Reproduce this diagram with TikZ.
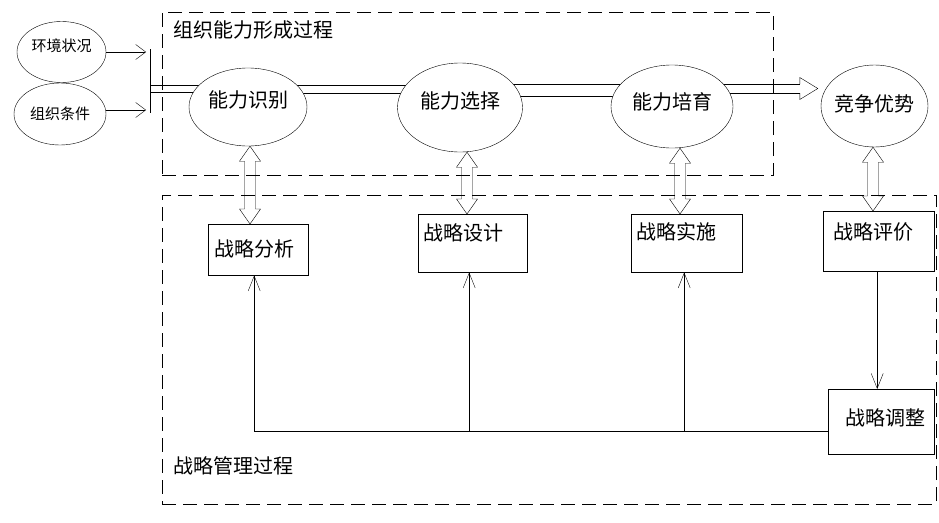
\documentclass[tikz,border=0pt]{standalone}
\usepackage{fontspec}
\setmainfont{Noto Sans CJK SC}
\usetikzlibrary{arrows.meta,shapes.geometric,calc}
\pgfdeclarelayer{bg}
\pgfsetlayers{bg,main}
\newcommand\dblarr[3]{%
  \draw let \p1=(#2.south), \p2=(#3.north) in
  ({#1pt},\y1) -- ({#1pt+10.5pt},{\y1-15pt}) -- ({#1pt+5.5pt},{\y1-15pt})
  -- ({#1pt+5.5pt},{\y2+15pt}) -- ({#1pt+10.5pt},{\y2+15pt}) -- ({#1pt},\y2)
  -- ({#1pt-10.5pt},{\y2+15pt}) -- ({#1pt-5.5pt},{\y2+15pt})
  -- ({#1pt-5.5pt},{\y1-15pt}) -- ({#1pt-10.5pt},{\y1-15pt}) -- cycle;}
\begin{document}
\begin{tikzpicture}[x=1pt,y=-1pt,line width=1pt,
  big/.style={font=\fontsize{20}{24}\selectfont},
  small/.style={font=\fontsize{15}{18}\selectfont},
  ell/.style={ellipse,draw,fill=white,inner sep=0pt,big,text height=17.6pt},
  sell/.style={ellipse,draw,fill=white,inner sep=0pt,small,text height=13.2pt},
  box/.style={draw,fill=white,anchor=north west,inner ysep=0pt,align=left,big},
  grp/.style={draw,dash pattern=on 14pt off 7pt,anchor=north west,inner sep=0pt},
  glabel/.style={big,anchor=west,inner sep=0pt,text height=17.6pt,text depth=2.4pt},
  barb/.style={-{Straight Barb[length=15pt,width=12pt]}},
  sbarb/.style={-{Straight Barb[length=10pt,width=15pt]}},
]
\useasboundingbox (0,0) rectangle (939,522);
% groups
\begin{pgfonlayer}{bg}
\node[grp,minimum width=611pt,minimum height=163pt] (g1) at (162,12) {};
\node[grp,minimum width=774pt,minimum height=309pt] (g2) at (162,195) {};
\end{pgfonlayer}
\node[glabel] (g1t) at (173,30) {组织能力形成过程};
\node[glabel] (g2t) at (173,466) {战略管理过程};
% small ellipses
\node[sell,minimum width=89pt,minimum height=61pt,text depth=13.8pt] (hj) at (61.5,52) {\makebox[0pt]{环境状况}};
\node[sell,minimum width=92pt,minimum height=62pt,text depth=1.8pt] (zz) at (60,114) {\makebox[0pt]{组织条件}};
% big ellipses
\node[ell,minimum width=118pt,minimum height=78pt,text depth=16.4pt] (shi) at (248,107) {\makebox[0pt]{能力识别}};
\node[ell,minimum width=125pt,minimum height=89pt,text depth=15.4pt] (xz) at (460,107.5) {\makebox[0pt]{能力选择}};
\node[ell,minimum width=122pt,minimum height=83pt,text depth=11.4pt] (py) at (672,106.5) {\makebox[0pt]{能力培育}};
\node[ell,minimum width=107pt,minimum height=82pt,text depth=6.4pt] (jz) at (874.5,106) {\makebox[0pt]{竞争优势}};
% boxes
\node[box,inner xsep=6pt,text width=88pt,text height=32.6pt,text depth=18.4pt] (fx) at (208,224) {战略分析};
\node[box,inner xsep=5pt,text width=99pt,text height=26.6pt,text depth=31.4pt] (sj) at (418,214) {战略设计};
\node[box,inner xsep=5pt,text width=101pt,text height=25.6pt,text depth=32.4pt] (ss) at (631,214) {战略实施};
\node[box,inner xsep=10pt,text width=91pt,text height=28.6pt,text depth=31.4pt] (pj) at (823,211) {战略评价};
\node[box,inner xsep=9pt,text width=88pt,align=right,text height=36.1pt,text depth=28.9pt] (tz) at (828,389) {战略调整};
% left inputs
\coordinate (barT) at (150,49);
\coordinate (barB) at (150,113);
\draw (barT) -- (barB);
\draw[sbarb] (hj.east) -- ([xshift=-4pt]hj.east -| barT);
\draw[sbarb] ([yshift=4pt]zz.east) -- ([xshift=-4pt,yshift=4pt]zz.east -| barT);
% double lines along the top
\begin{pgfonlayer}{bg}
\draw ([yshift=22pt]shi.center -| barT) -- ([yshift=22pt]shi.center);
\draw ([yshift=15pt]shi.center -| barT) -- ([yshift=15pt]shi.center);
\draw ([yshift=22pt]shi.center) -- ([yshift=22pt]shi.center -| xz.center);
\draw ([yshift=14pt]shi.center) -- ([yshift=14pt]shi.center -| xz.center);
\draw ([yshift=23.5pt]xz.center) -- ([yshift=23.5pt]xz.center -| py.center);
\draw ([yshift=11.5pt]xz.center) -- ([yshift=11.5pt]xz.center -| py.center);
\end{pgfonlayer}
\coordinate (ah) at ([xshift=-3pt,yshift=17.5pt]jz.west);
\coordinate (ahA) at ([xshift=-18pt,yshift=4.5pt]ah);
\coordinate (ahB) at ([xshift=-18pt,yshift=-4.5pt]ah);
\begin{pgfonlayer}{bg}
\draw (ahA -| py.center) -- (ahA);
\draw (ahB -| py.center) -- (ahB);
\end{pgfonlayer}
\draw (ahA) -- ([xshift=-18pt,yshift=11pt]ah) -- (ah) -- ([xshift=-18pt,yshift=-11pt]ah) -- (ahB);
% vertical double arrows
\dblarr{250}{shi}{fx}
\dblarr{467}{xz}{sj}
\dblarr{680}{py}{ss}
\dblarr{873}{jz}{pj}
% feedback
\draw[barb] ([xshift=-1.5pt]pj.south) -- ([xshift=-1.5pt]pj.south |- tz.north);
\coordinate (fb) at ($(tz.west)+(0,9.5)$);
\draw (fb) -- ([xshift=-4pt]fb -| fx.south);
\draw[barb] ([xshift=-4pt]fb -| fx.south) -- ([xshift=-4pt]fx.south);
\draw[barb] ([xshift=-3.5pt]fb -| sj.south) -- ([xshift=-3.5pt]sj.south);
\draw[barb] ([xshift=-2.5pt]fb -| ss.south) -- ([xshift=-2.5pt]ss.south);
\end{tikzpicture}
\end{document}
